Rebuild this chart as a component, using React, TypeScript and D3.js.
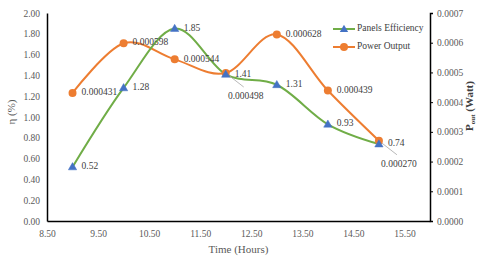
import { useEffect, useRef } from "react";
import * as d3 from "d3";

const hours = [9, 10, 11, 12, 13, 14, 15];
const efficiency = [0.52, 1.28, 1.85, 1.41, 1.31, 0.93, 0.74];
const power = [0.000431, 0.000598, 0.000544, 0.000498, 0.000628, 0.000439, 0.00027];
const xTicks = [8.5, 9.5, 10.5, 11.5, 12.5, 13.5, 14.5, 15.5];
const leftTicks = [0, 0.2, 0.4, 0.6, 0.8, 1.0, 1.2, 1.4, 1.6, 1.8, 2.0];
const rightTicks = [0, 0.0001, 0.0002, 0.0003, 0.0004, 0.0005, 0.0006, 0.0007];
const seriesNames = ["Panels Efficiency", "Power Output"];
// power labels that sit below the point with a leader line
const leaderLabels = [3, 6];

const GREEN = "#70AD47";
const ORANGE = "#ED7D31";
const BLUE = "#4472C4";
const FONT = "'Liberation Serif', 'Times New Roman', serif";

const App = () => {
  const svgRef = useRef<SVGSVGElement>(null);

  useEffect(() => {
    if (!svgRef.current) return;
    const width = 480;
    const height = 262;
    const margin = { top: 13, right: 50, bottom: 41, left: 47 };

    const svg = d3.select(svgRef.current);
    svg.selectAll("*").remove();
    svg.attr("width", width).attr("height", height);

    const x = d3.scaleLinear().domain([8.5, 16]).range([margin.left, width - margin.right]);
    const yL = d3.scaleLinear().domain([0, 2]).range([height - margin.bottom, margin.top]);
    const yR = d3.scaleLinear().domain([0, 0.0007]).range([height - margin.bottom, margin.top]);

    // Axes
    const xAxis = svg
      .append("g")
      .attr("transform", `translate(0,${height - margin.bottom})`)
      .call(d3.axisBottom(x).tickValues(xTicks).tickSize(0).tickPadding(9).tickFormat((d) => d3.format(".2f")(d as number)));
    const leftAxis = svg
      .append("g")
      .attr("transform", `translate(${margin.left},0)`)
      .call(d3.axisLeft(yL).tickValues(leftTicks).tickSize(0).tickPadding(7).tickFormat((d) => d3.format(".2f")(d as number)));
    const rightAxis = svg
      .append("g")
      .attr("transform", `translate(${width - margin.right},0)`)
      .call(d3.axisRight(yR).tickValues(rightTicks).tickSize(3).tickPadding(4).tickFormat((d) => d3.format(".4f")(d as number)));

    [xAxis, leftAxis, rightAxis].forEach((g) => {
      g.select(".domain").attr("stroke", "#000").attr("stroke-width", 1.5);
      g.selectAll("line").attr("stroke", "#000");
      g.selectAll("text").attr("fill", "#595959").attr("font-family", FONT).attr("font-size", "9.5px");
    });

    const lineGen = (yScale: d3.ScaleLinear<number, number>, vals: number[]) =>
      d3
        .line<number>()
        .x((_, i) => x(hours[i]))
        .y((d) => yScale(d))
        .curve(d3.curveCardinal.tension(0))(vals);

    // Power output line
    svg
      .append("path")
      .attr("d", lineGen(yR, power))
      .attr("fill", "none")
      .attr("stroke", ORANGE)
      .attr("stroke-width", 2);

    // Efficiency line
    svg
      .append("path")
      .attr("d", lineGen(yL, efficiency))
      .attr("fill", "none")
      .attr("stroke", GREEN)
      .attr("stroke-width", 2);

    // Leader lines
    leaderLabels.forEach((i) => {
      svg
        .append("line")
        .attr("x1", x(hours[i]))
        .attr("y1", yR(power[i]))
        .attr("x2", x(hours[i]) + 18)
        .attr("y2", yR(power[i]) + 14)
        .attr("stroke", "#a6a6a6")
        .attr("stroke-width", 0.8);
    });

    // Markers
    svg
      .append("g")
      .selectAll("circle")
      .data(power)
      .join("circle")
      .attr("cx", (_, i) => x(hours[i]))
      .attr("cy", (d) => yR(d))
      .attr("r", 4)
      .attr("fill", ORANGE);

    const tri = d3.symbol().type(d3.symbolTriangle).size(30);
    svg
      .append("g")
      .selectAll("path")
      .data(efficiency)
      .join("path")
      .attr("d", tri)
      .attr("transform", (d, i) => `translate(${x(hours[i])},${yL(d) + 0.5})`)
      .attr("fill", BLUE)
      .attr("stroke", BLUE)
      .attr("stroke-width", 0.5);

    // Data labels
    const labelStyle = (sel: d3.Selection<SVGTextElement, any, any, any>) =>
      sel.attr("fill", "#404040").attr("font-family", FONT).attr("font-size", "9.5px").attr("dominant-baseline", "middle");

    svg
      .append("g")
      .selectAll("text")
      .data(power)
      .join("text")
      .attr("x", (_, i) => (leaderLabels.includes(i) ? x(hours[i]) + 20 : x(hours[i]) + 9))
      .attr("y", (d, i) => (leaderLabels.includes(i) ? yR(d) + 24 : yR(d)))
      .attr("text-anchor", (_, i) => (leaderLabels.includes(i) ? "middle" : "start"))
      .text((d) => d.toFixed(6))
      .call(labelStyle);

    svg
      .append("g")
      .selectAll("text")
      .data(efficiency)
      .join("text")
      .attr("x", (_, i) => x(hours[i]) + 9)
      .attr("y", (d) => yL(d))
      .text((d) => d.toFixed(2))
      .call(labelStyle);

    // Axis titles
    svg
      .append("text")
      .attr("x", (margin.left + width - margin.right) / 2)
      .attr("y", 250)
      .attr("text-anchor", "middle")
      .attr("dominant-baseline", "middle")
      .attr("fill", "#595959")
      .attr("font-family", FONT)
      .attr("font-size", "11px")
      .text("Time (Hours)");

    svg
      .append("text")
      .attr("transform", "translate(12,112) rotate(-90)")
      .attr("text-anchor", "middle")
      .attr("dominant-baseline", "middle")
      .attr("fill", "#595959")
      .attr("font-family", FONT)
      .attr("font-size", "11px")
      .text("η (%)");

    const pTitle = svg
      .append("text")
      .attr("transform", "translate(470,106) rotate(-90)")
      .attr("text-anchor", "middle")
      .attr("dominant-baseline", "middle")
      .attr("fill", "#404040")
      .attr("font-family", FONT)
      .attr("font-size", "11px")
      .attr("font-weight", "bold");
    pTitle.append("tspan").text("P");
    pTitle.append("tspan").attr("font-size", "7px").attr("dy", 3).text("out");
    pTitle.append("tspan").attr("dy", -3).text(" (Watt)");

    // Legend
    const legend = svg.append("g").attr("transform", "translate(333,29)");
    seriesNames.forEach((name, i) => {
      const g = legend.append("g").attr("transform", `translate(0,${i * 18})`);
      g.append("line")
        .attr("x1", 0)
        .attr("x2", 22)
        .attr("stroke", i === 0 ? GREEN : ORANGE)
        .attr("stroke-width", 2);
      if (i === 0) {
        g.append("path").attr("d", tri).attr("transform", "translate(11,0.5)").attr("fill", BLUE);
      } else {
        g.append("circle").attr("cx", 11).attr("r", 4).attr("fill", ORANGE);
      }
      g.append("text")
        .attr("x", 24)
        .attr("y", 0)
        .attr("dominant-baseline", "middle")
        .attr("fill", "#404040")
        .attr("font-family", FONT)
        .attr("font-size", "9.5px")
        .text(name);
    });
  }, []);

  return (
    <div style={{ position: "absolute", left: 0, top: 0 }}>
      <svg ref={svgRef} style={{ display: "block", background: "#fff" }} />
    </div>
  );
};

export default App;
